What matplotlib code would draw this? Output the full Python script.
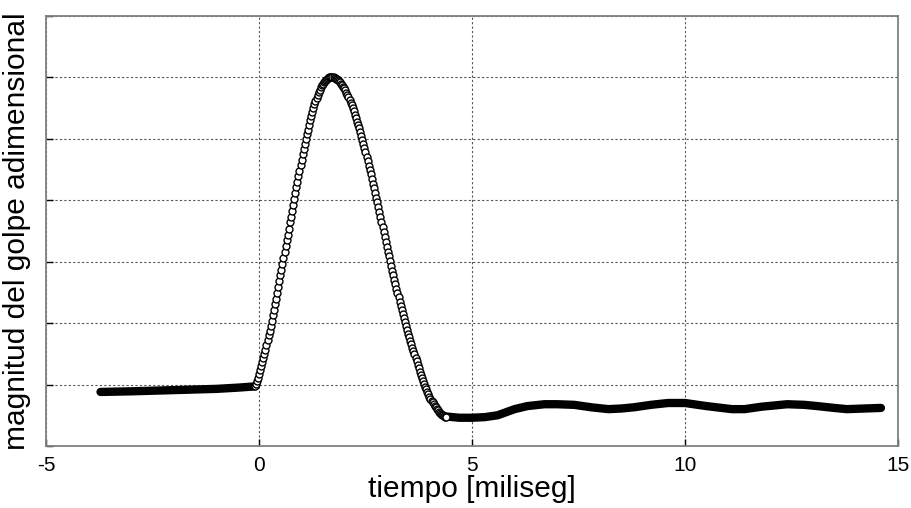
import matplotlib
matplotlib.use("Agg")
import matplotlib.pyplot as plt
import numpy as np

#--- Data (time in ms, unlabeled y units)

# baseline before the pulse (dense samples -> drawn as a thick trace)
t_pre = [-3.72, -3.0, -2.5, -2.0, -1.5, -1.0, -0.5, -0.1]
y_pre = [0.088, 0.089, 0.090, 0.091, 0.092, 0.093, 0.095, 0.097]

# pulse samples, every 0.025 ms from -0.1 to 4.4 ms
t_pulse_start = -0.1
t_pulse_step = 0.025
y_pulse = [
    0.097, 0.101, 0.106, 0.111,
    0.117, 0.123, 0.130, 0.136,
    0.143, 0.150, 0.157, 0.165,
    0.172, 0.180, 0.188, 0.196,
    0.204, 0.213, 0.222, 0.231,
    0.240, 0.249, 0.259, 0.268,
    0.278, 0.287, 0.297, 0.306,
    0.316, 0.325, 0.335, 0.344,
    0.354, 0.364, 0.373, 0.383,
    0.393, 0.402, 0.412, 0.421,
    0.430, 0.439, 0.448, 0.457,
    0.466, 0.475, 0.483, 0.492,
    0.500, 0.508, 0.515, 0.523,
    0.530, 0.537, 0.544, 0.550,
    0.556, 0.561, 0.567, 0.572,
    0.576, 0.580, 0.584, 0.587,
    0.590, 0.592, 0.594, 0.596,
    0.598, 0.599, 0.600, 0.600,
    0.600, 0.600, 0.600, 0.599,
    0.598, 0.597, 0.596, 0.594,
    0.592, 0.590, 0.588, 0.585,
    0.582, 0.579, 0.575, 0.572,
    0.568, 0.564, 0.559, 0.555,
    0.550, 0.545, 0.539, 0.534,
    0.528, 0.522, 0.517, 0.511,
    0.505, 0.498, 0.492, 0.485,
    0.478, 0.471, 0.464, 0.456,
    0.449, 0.442, 0.435, 0.427,
    0.420, 0.412, 0.404, 0.397,
    0.389, 0.381, 0.373, 0.365,
    0.357, 0.349, 0.340, 0.332,
    0.324, 0.316, 0.309, 0.301,
    0.293, 0.285, 0.278, 0.270,
    0.263, 0.256, 0.249, 0.242,
    0.235, 0.228, 0.221, 0.215,
    0.208, 0.202, 0.195, 0.189,
    0.183, 0.177, 0.171, 0.166,
    0.160, 0.154, 0.149, 0.143,
    0.138, 0.132, 0.127, 0.121,
    0.116, 0.111, 0.106, 0.101,
    0.096, 0.092, 0.088, 0.084,
    0.080, 0.077, 0.074, 0.071,
    0.068, 0.065, 0.063, 0.060,
    0.058, 0.056, 0.054, 0.052,
    0.051, 0.050, 0.049, 0.048,
    0.048,
]

# oscillating tail after the pulse (dense samples -> thick trace)
t_post = [4.4, 4.7, 5.0, 5.3, 5.6, 6.0, 6.3, 6.7, 7.0, 7.4, 7.8, 8.2, 8.5,
          8.8, 9.2, 9.6, 10.0, 10.5, 11.1, 11.4, 11.8, 12.4, 12.8, 13.1,
          13.5, 13.8, 14.2, 14.6]
y_post = [0.048, 0.046, 0.046, 0.047, 0.050, 0.060, 0.065, 0.068, 0.068,
          0.067, 0.063, 0.060, 0.061, 0.063, 0.067, 0.070, 0.070, 0.065,
          0.060, 0.060, 0.064, 0.068, 0.067, 0.065, 0.062, 0.060, 0.061,
          0.062]

x_ticks = [-5, 0, 5, 10, 15]
y_ticks = [0.0, 0.1, 0.2, 0.3, 0.4, 0.5, 0.6, 0.7]

t_pulse = t_pulse_start + t_pulse_step * np.arange(len(y_pulse))

#--- Plot
plt.rcParams['font.family'] = ['Liberation Sans', 'DejaVu Sans']
plt.rcParams['axes.unicode_minus'] = False

fig = plt.figure(figsize=(9.12, 5.08), dpi=100)
ax = fig.add_axes([46 / 912, 1 - 446 / 508, 852 / 912, 430 / 508])

ax.plot(t_pre, y_pre, color='black', lw=6, solid_capstyle='round', zorder=3)
ax.plot(t_post, y_post, color='black', lw=6, solid_capstyle='round', zorder=3)
ax.plot(t_pulse, y_pulse, linestyle='none', marker='o', ms=5,
        mfc='white', mec='black', mew=1.0, zorder=4)

ax.set_xlim(-5, 15)
ax.set_ylim(0, 0.7)
ax.set_xticks(x_ticks)
ax.set_yticks(y_ticks)
ax.set_yticklabels([])
ax.tick_params(direction='in', length=5, width=1, color='black',
               labelsize=15, pad=7)
ax.grid(True, linestyle=(0, (2, 2)), color='#555555', lw=0.8)
for s in ax.spines.values():
    s.set_color('#808080')
    s.set_linewidth(1.3)

ax.set_xlabel("tiempo [miliseg]", fontsize=21.5, labelpad=0)
ax.set_ylabel("magnitud del golpe adimensional", fontsize=21.5, labelpad=4)

plt.savefig("out.png", dpi=100)
plt.close()
